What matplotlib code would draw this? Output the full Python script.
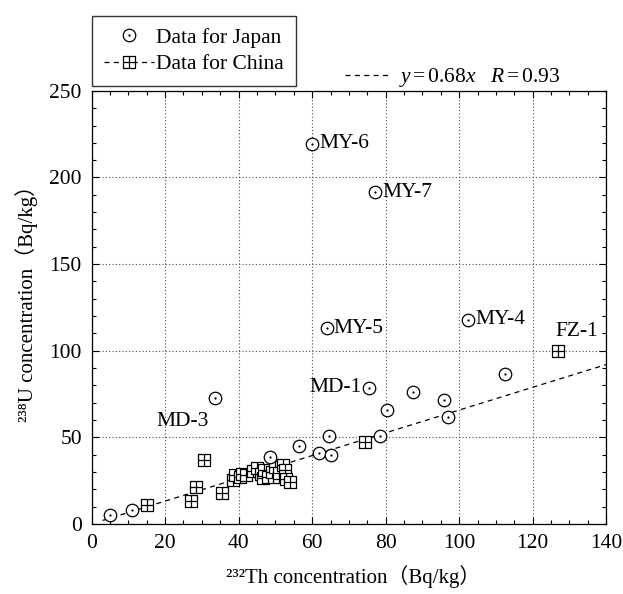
import matplotlib

matplotlib.use("Agg")
import matplotlib.pyplot as plt
from matplotlib.lines import Line2D
from matplotlib.path import Path
from matplotlib.ticker import MultipleLocator

# 日本のデータ（Th-232, U-238）
japan_x = [5, 11, 33.5, 48.5, 56.5, 60, 62, 64, 64.5, 65, 75.5, 77.2, 78.5,
           80.5, 87.5, 96, 97, 102.5, 112.5]
japan_y = [5, 8, 72.5, 38.5, 45, 219.5, 41, 113, 51, 40, 78.5, 191.5, 51,
           66, 76, 71.5, 61.5, 118, 86.5]
japan_names = ["", "", "MD-3", "", "", "MY-6", "", "MY-5", "", "", "MD-1", "MY-7", "",
               "", "", "", "", "MY-4", ""]

# 中国のデータ
china_x = [15, 27, 28.5, 30.5, 35.5, 38.5, 39, 40.5, 41, 42, 44, 45, 46, 46.5, 47,
           48, 49, 50, 51, 51, 52, 52.5, 53, 54, 74.5, 127]
china_y = [11, 13.5, 21.5, 37, 18, 25.5, 28.5, 27, 29, 28, 30.5, 32, 29, 26.5, 31,
           27, 30, 33, 27, 29.5, 34, 31, 26, 24, 47.5, 100]
china_names = [""] * 25 + ["FZ-1"]

# 回帰直線 y = 0.68x（図から読んだ端点）
fit_x = [3, 140]
fit_y = [2, 92]

plt.rcParams["font.family"] = ["Liberation Serif", "Noto Sans CJK JP"]
plt.rcParams["font.size"] = 15.5
plt.rcParams["mathtext.fontset"] = "custom"
plt.rcParams["mathtext.rm"] = "Liberation Serif"
plt.rcParams["mathtext.it"] = "Liberation Serif:italic"

# ⊙ と ⊞ のマーカー
circ = Path.make_compound_path(Path.unit_circle(),
                               Path(Path.unit_circle().vertices * 0.08, Path.unit_circle().codes))
box = Path([(-1, -1), (1, -1), (1, 1), (-1, 1), (-1, -1), (0, -1), (0, 1), (-1, 0), (1, 0)],
           [Path.MOVETO, Path.LINETO, Path.LINETO, Path.LINETO, Path.CLOSEPOLY,
            Path.MOVETO, Path.LINETO, Path.MOVETO, Path.LINETO])
dash = (0, (4, 3.5))

fig = plt.figure(figsize=(6.23, 5.94), dpi=100)
ax = fig.add_axes([0.147, 0.118, 0.826, 0.729])

ax.plot(fit_x, fit_y, color="k", lw=0.9, ls=dash, zorder=2)
ax.plot(china_x, china_y, ls="none", marker=box, ms=8, mfc="white", mec="k", mew=0.9, zorder=3)
ax.plot(japan_x, japan_y, ls="none", marker=circ, ms=9, mfc="white", mec="k", mew=0.9, zorder=4)

offsets = {"MY-6": (5, 0, "left"), "MY-7": (5, 0, "left"), "MY-5": (5, 0, "left"),
           "MY-4": (5, 0, "left"), "MD-1": (-5, 0, "right"), "MD-3": (-23, -17, "center"),
           "FZ-1": (13, 14, "center")}
for xs, ys, names in ((japan_x, japan_y, japan_names), (china_x, china_y, china_names)):
    for x, y, name in zip(xs, ys, names):
        if name:
            dx, dy, ha = offsets[name]
            ax.annotate(name, (x, y), xytext=(dx, dy), textcoords="offset points",
                        ha=ha, va="center")

ax.set_xlim(0, 140)
ax.set_ylim(0, 250)
ax.xaxis.set_major_locator(MultipleLocator(20))
ax.xaxis.set_minor_locator(MultipleLocator(5))
ax.yaxis.set_major_locator(MultipleLocator(50))
ax.yaxis.set_minor_locator(MultipleLocator(10))
ax.tick_params(which="both", direction="in", top=True, right=True, width=0.8)
ax.tick_params(which="major", length=5, pad=7)
ax.tick_params(which="minor", length=3)
ax.grid(which="major", color="0.3", ls=(0, (1, 2)), lw=0.8)
for s in ax.spines.values():
    s.set_linewidth(0.9)

ax.set_xlabel("²³²Th concentration（Bq/kg）", fontsize=15)
ax.set_ylabel("²³⁸U concentration（Bq/kg）", fontsize=15)
ax.xaxis.set_label_coords(0.508, -0.095)
ax.yaxis.set_label_coords(-0.105, 0.52)

h_japan = Line2D([], [], ls="none", marker=circ, ms=9, mfc="white", mec="k", mew=0.9)
h_china = Line2D([], [], color="k", lw=0.9, ls=dash, marker=box, ms=8, mfc="white",
                 mec="k", mew=0.9)
leg = fig.legend([h_japan, h_china], ["Data for Japan", "Data for China"],
                 loc="upper left", bbox_to_anchor=(0.148, 0.973), frameon=True, fancybox=False,
                 edgecolor="k", handlelength=2.3, handletextpad=0.12, borderpad=0.55,
                 labelspacing=0.3, borderaxespad=0)
leg.get_frame().set_linewidth(1.0)

h_fit = Line2D([], [], color="k", lw=0.9, ls=dash)
fig.legend([h_fit], [r"$y\,$=$\,$0.68$x$   $R\,$=$\,$0.93"], loc="center left",
           bbox_to_anchor=(0.54, 0.869), frameon=False, handlelength=2.1,
           handletextpad=0.4, borderaxespad=0)

fig.savefig("out.png", dpi=100)
